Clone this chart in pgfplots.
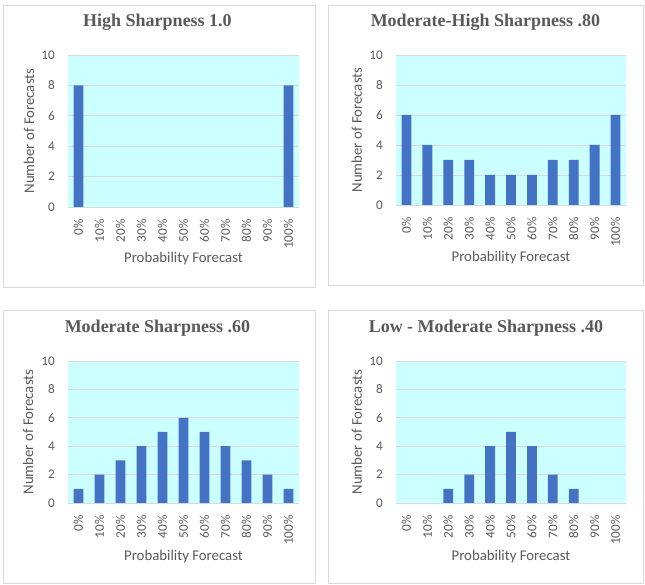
\documentclass[border=0pt]{standalone}
\usepackage{pgfplots}
\pgfplotsset{compat=1.18}
\usepackage{fontspec}
\setmainfont{Carlito}
\newfontfamily\titlefont{Liberation Serif}
\definecolor{barc}{HTML}{4472C4}
\definecolor{bgc}{HTML}{CCFFFF}
\definecolor{gridc}{HTML}{D9D9D9}
\definecolor{txt}{HTML}{595959}
\pgfplotsset{
  panel/.style={
    scale only axis, width=231pt, height=152pt,
    xmin=-0.5, xmax=10.5, ymin=0, ymax=10,
    ytick={0,2,4,6,8,10},
    xtick={0,1,2,3,4,5,6,7,8,9,10},
    xticklabels={0\%,10\%,20\%,30\%,40\%,50\%,60\%,70\%,80\%,90\%,100\%},
    /pgf/number format/assume math mode=true,
    axis background/.style={fill=bgc},
    axis x line*=bottom, axis y line*=left,
    x axis line style={draw=gridc, line width=0.8pt},
    y axis line style={draw=none},
    tick style={draw=none},
    ymajorgrids, major grid style={draw=gridc, line width=0.8pt},
    tick label style={font=\fontsize{13.2}{15}\selectfont, text=txt},
    yticklabel style={anchor=east, inner sep=0pt, xshift=-13pt},
    xticklabel style={yshift=-8pt, rotate=90, anchor=east, inner sep=0pt},
    label style={font=\fontsize{14.8}{17}\selectfont, text=txt},
    xlabel={Probability Forecast},
    ylabel={Number of Forecasts},
    xlabel style={at={(0.5,0)}, anchor=center},
    ylabel style={anchor=center},
    title style={at={(0.5,1)}, anchor=base, yshift=22.7pt,
      font=\titlefont\bfseries\fontsize{18}{21}\selectfont, text=txt},
    ybar, bar width=0.47,
    anchor=south west,
  },
  bars/.style={fill=barc, draw=none},
}
\begin{document}
\begin{tikzpicture}
\path[use as bounding box] (0,0) rectangle (645pt,585pt);
\draw[gridc, line width=0.8pt] (3pt,298pt) rectangle (315pt,580pt);
\draw[gridc, line width=0.8pt] (328pt,300pt) rectangle (643pt,580pt);
\draw[gridc, line width=0.8pt] (3pt,2pt) rectangle (315pt,275pt);
\draw[gridc, line width=0.8pt] (328pt,2pt) rectangle (643pt,275pt);

\begin{axis}[panel, at={(68pt,378pt)}, width=231pt, height=152pt,
  title={High Sharpness 1.0}, title style={xshift=-26pt},
  xlabel style={yshift=-52pt},
  ylabel style={at={(axis description cs:-0.169,0.5)}}]
\addplot[bars] coordinates {(0,8) (10,8)};
\end{axis}

\begin{axis}[panel, at={(396pt,380pt)}, width=230pt, height=150pt,
  title={Moderate-High Sharpness .80}, title style={xshift=-25.5pt},
  xlabel style={yshift=-53pt},
  ylabel style={at={(axis description cs:-0.170,0.5)}}]
\addplot[bars] coordinates {(0,6) (1,4) (2,3) (3,3) (4,2) (5,2) (6,2) (7,3) (8,3) (9,4) (10,6)};
\end{axis}

\begin{axis}[panel, at={(68pt,82pt)}, width=231pt, height=142pt,
  title={Moderate Sharpness .60}, title style={xshift=-26pt},
  xlabel style={yshift=-54pt},
  ylabel style={at={(axis description cs:-0.173,0.5)}}]
\addplot[bars] coordinates {(0,1) (1,2) (2,3) (3,4) (4,5) (5,6) (6,5) (7,4) (8,3) (9,2) (10,1)};
\end{axis}

\begin{axis}[panel, at={(396pt,82pt)}, width=230pt, height=142pt,
  title={Low - Moderate Sharpness .40}, title style={xshift=-25pt},
  xlabel style={yshift=-54pt},
  ylabel style={at={(axis description cs:-0.170,0.5)}}]
\addplot[bars] coordinates {(2,1) (3,2) (4,4) (5,5) (6,4) (7,2) (8,1)};
\end{axis}
\end{tikzpicture}
\end{document}
